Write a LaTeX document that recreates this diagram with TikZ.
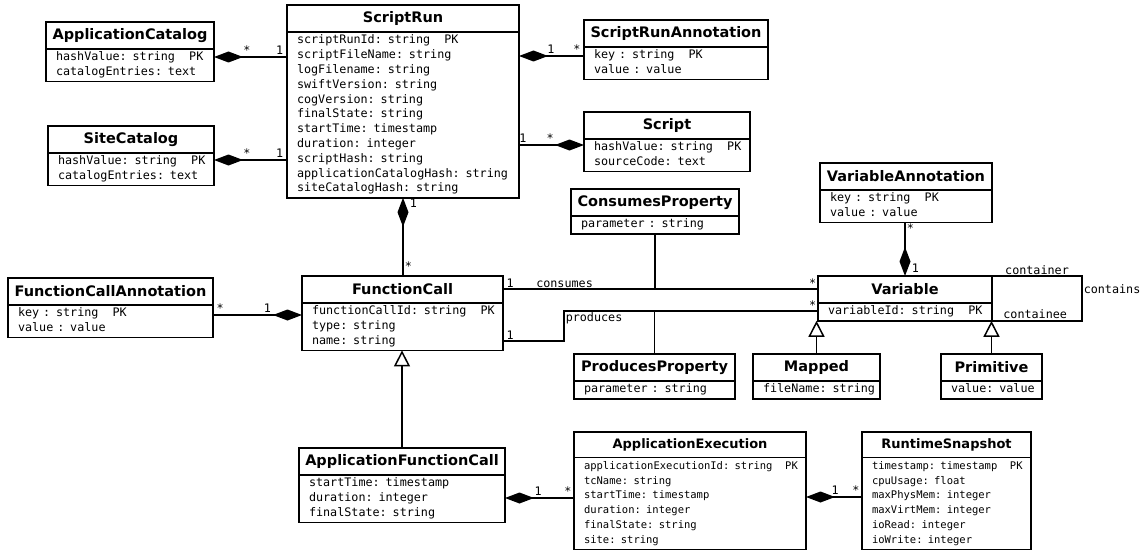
\documentclass[tikz,border=0pt]{standalone}
\usepackage{fontspec}
\usetikzlibrary{positioning,arrows.meta}

\newfontfamily\umlsans{DejaVu Sans}
\newfontfamily\umlmono{DejaVu Sans Mono}
\newcommand\attrlist[1]{\begin{tabular}{@{}l@{}}#1\end{tabular}}
\newcommand\pkey{\hspace{1.204em}PK}

\tikzset{
  classname/.style={draw, line width=1.6pt, outer sep=0pt, inner sep=0pt,
    anchor=north west, minimum width=#1, minimum height=27pt,
    font=\umlsans\bfseries\fontsize{14.5pt}{17pt}\selectfont},
  classattr/.style={draw, line width=1.6pt, outer sep=0pt, inner xsep=10pt,
    inner ysep=1.5pt, text width=#1,
    font=\umlmono\fontsize{11.75pt}{14.8pt}\selectfont},
  smallname/.style={classname=#1, minimum height=25.5pt,
    font=\umlsans\bfseries\fontsize{13pt}{16pt}\selectfont},
  smallattr/.style={classattr=#1,
    font=\umlmono\fontsize{10.5pt}{14.8pt}\selectfont},
  comp/.style={line width=1.5pt, {Diamond[length=29pt, width=11pt]}-},
  gen/.style={line width=1.5pt, -{Triangle[open, length=16pt, width=16pt]}},
  assoc/.style={line width=1.5pt},
  mult/.style={font=\umlmono\fontsize{11.75pt}{14pt}\selectfont, inner sep=1pt}
}

\begin{document}
\begin{tikzpicture}[x=1pt, y=-1pt]
\useasboundingbox (0, 0) rectangle (1146, 551);

\node [classname=168pt] (appcat) at (46, 22) {ApplicationCatalog};
\node [classattr=148pt, below=0pt of appcat] (appcat-a) {\attrlist{hashValue: string\pkey \\ catalogEntries: text}};

\node [classname=166pt] (sitecat) at (48, 126) {SiteCatalog};
\node [classattr=146pt, below=0pt of sitecat] (sitecat-a) {\attrlist{hashValue: string\pkey \\ catalogEntries: text}};

\node [classname=232pt] (sr) at (287, 5) {ScriptRun};
\node [classattr=212pt, below=0pt of sr] (sr-a) {\attrlist{scriptRunId: string\pkey \\ scriptFileName: string \\
  logFilename: string \\ swiftVersion: string \\ cogVersion: string \\ finalState: string \\
  startTime: timestamp \\ duration: integer \\ scriptHash: string \\
  applicationCatalogHash: string \\ siteCatalogHash: string}};

\node [classname=184pt] (sra) at (584, 20) {ScriptRunAnnotation};
\node [classattr=164pt, below=0pt of sra] (sra-a) {\attrlist{key : string\pkey \\ value : value}};

\node [classname=166pt] (script) at (584, 112) {Script};
\node [classattr=146pt, below=0pt of script] (script-a) {\attrlist{hashValue: string\pkey \\ sourceCode: text}};

\node [classname=168pt] (consprop) at (571, 189) {ConsumesProperty};
\node [classattr=148pt, below=0pt of consprop] (consprop-a) {\attrlist{parameter : string}};

\node [classname=201pt] (fc) at (302, 276) {FunctionCall};
\node [classattr=181pt, below=0pt of fc] (fc-a) {\attrlist{functionCallId: string\pkey \\ type: string \\ name: string}};

\node [classname=205pt] (fca) at (8, 278) {FunctionCallAnnotation};
\node [classattr=185pt, below=0pt of fca] (fca-a) {\attrlist{key : string\pkey \\ value : value}};

\node [classname=172pt] (varann) at (820, 163) {VariableAnnotation};
\node [classattr=152pt, below=0pt of varann] (varann-a) {\attrlist{key : string\pkey \\ value : value}};

\node [classname=174pt] (var) at (818, 276) {Variable};
\node [classattr=154pt, below=0pt of var] (var-a) {\attrlist{variableId: string\pkey}};

\node [classname=161pt] (prodprop) at (574, 354) {ProducesProperty};
\node [classattr=141pt, below=0pt of prodprop] (prodprop-a) {\attrlist{parameter : string}};

\node [classname=127pt] (mapped) at (753, 354) {Mapped};
\node [classattr=107pt, below=0pt of mapped] (mapped-a) {\attrlist{fileName: string}};

\node [classname=101pt] (prim) at (941, 354) {Primitive};
\node [classattr=81pt, below=0pt of prim] (prim-a) {\attrlist{value: value}};

\node [classname=206pt] (afc) at (299, 448) {ApplicationFunctionCall};
\node [classattr=186pt, below=0pt of afc] (afc-a) {\attrlist{startTime: timestamp \\ duration: integer \\ finalState: string}};

\node [smallname=232pt] (appexec) at (574, 432) {ApplicationExecution};
\node [smallattr=212pt, below=0pt of appexec] (appexec-a) {\attrlist{applicationExecutionId: string\pkey \\
  tcName: string \\ startTime: timestamp \\ duration: integer \\ finalState: string \\ site: string}};

\node [smallname=169pt] (rts) at (862, 432) {RuntimeSnapshot};
\node [smallattr=149pt, below=0pt of rts] (rts-a) {\attrlist{timestamp: timestamp\pkey \\ cpuUsage: float \\
  maxPhysMem: integer \\ maxVirtMem: integer \\ ioRead: integer \\ ioWrite: integer}};

\draw [comp] (appcat-a.east |- 0, 57) -- node [mult, pos=.45, above=1pt] {*} node [mult, pos=.9, above=1pt] {1} (sr-a.west |- 0, 57);
\draw [comp] (sitecat-a.east |- 0, 160) -- node [mult, pos=.45, above=1pt] {*} node [mult, pos=.9, above=1pt] {1} (sr-a.west |- 0, 160);
\draw [comp] (sr-a.east |- 0, 56) -- node [mult, pos=.49, above=1pt] {1} node [mult, pos=.89, above=1pt] {*} (sra-a.west |- 0, 56);
\draw [comp] (script-a.west |- 0, 145) -- node [mult, pos=.52, above=1pt] {*} node [mult, pos=.94, above=1pt] {1} (sr-a.east |- 0, 145);
\draw [comp] (sr-a.south) -- node [mult, pos=.07, right=5pt] {1} node [mult, pos=.88, right] {*} (sr-a.south |- fc.north);
\draw [comp] (fc-a.west |- 0, 315) -- node [mult, pos=.39, above=1pt] {1} node [mult, pos=.92, above=1pt] {*} (fca-a.east |- 0, 315);
\draw [comp] (var.north) -- node [mult, pos=.15, right=5pt] {1} node [mult, pos=.9, right] {*} (var.north |- varann-a.south);
\draw [comp] (afc-a.east |- 0, 498) -- node [mult, pos=.48, above=1pt] {1} node [mult, pos=.91, above=1pt] {*} (appexec-a.west |- 0, 498);
\draw [comp] (appexec-a.east |- 0, 497) -- node [mult, pos=.52, above=1pt] {1} node [mult, pos=.89, above=1pt] {*} (rts-a.west |- 0, 497);

\draw [assoc] (fc.east |- 0, 289) -- node [mult, pos=0, above right] {\,1} node [mult, pos=.1, above right] {consumes}
  node [mult, pos=1, above left] {*} (var.west |- 0, 289) coordinate (cons-r);
\draw [assoc] (consprop-a.south) -- (consprop-a.south |- cons-r);
\draw [assoc] (fc-a.east |- 0, 341) -- node [mult, pos=0, above right] {\,1} ++(61, 0)
  |- node [mult, pos=.5, below right] {produces} node [mult, pos=1, above left] {*} (var-a.west |- 0, 311) coordinate (prod-r);
\draw [assoc] (prodprop.north) -- (prodprop.north |- prod-r);
\draw [assoc] (var.north east) -- node [mult, above] {container} ++(90, 0)
  |- node [mult, pos=.15, right] {contains} node [mult, pos=.76, above] {containee} (var-a.south east);

\draw [gen] (afc.north) -- (afc.north |- fc-a.south);
\draw [gen] (mapped.north) -- (mapped.north |- var-a.south);
\draw [gen] (prim.north) -- (prim.north |- var-a.south);

\end{tikzpicture}
\end{document}
